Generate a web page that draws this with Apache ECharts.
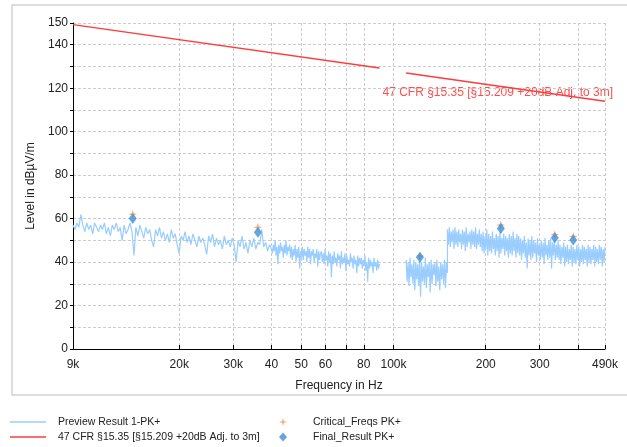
<!DOCTYPE html>
<html><head><meta charset="utf-8">
<script src="https://cdn.jsdelivr.net/npm/echarts@6/dist/echarts.min.js"></script>
<style>html,body{margin:0;padding:0;background:#fff}#c{width:627px;height:447px}</style>
</head><body><div id="c"></div>
<script>
const FONT = '"Liberation Sans", Arial, sans-serif';

// X axis (log frequency) ticks and labels
const tickFreqs = [9000, 20000, 30000, 40000, 50000, 60000, 70000, 80000, 100000, 200000, 300000, 400000, 490000];
const labelFreqs = [9000, 20000, 30000, 40000, 50000, 60000, 80000, 100000, 200000, 300000, 490000];
const labelTexts = ['9k', '20k', '30k', '40', '50', '60', '80', '100k', '200', '300', '490k'];
// Y axis labels
const yLabelValues = [0, 20, 40, 60, 80, 100, 120, 140, 150];

// Preview trace (sweep segments: start/stop frequency, levels)
const previewSeg1aRange = [9000, 40000];
const previewSeg1aLevels = [57,55,58,56,62,57,54,58,55,57,53,58,56,54,57,
  55,58,53,56,52,57,55,58,54,56,50,57,53,55,58,54,
  43,
  56,52,57,54,51,56,53,55,50,47,55,52,56,51,
  54,50,53,49,55,51,53,48,44,52,50,54,49,52,48,53,50,47,52,49,
  51,48,43.5,52,49,53,47,51,48,50,46,52,48,50,47,51,
  48,40,50,47,52,46,49,44,50,47,51,46,49,48,55,47,
  49,45,48,46];
const previewSeg1bRange = [40000, 90000];
const previewSeg1bLevels = [49,44,48,45,50,43,47,39,48,44,49,45,47,42,48,44,50,43,47,45,48,42,
  47,41,46,43,48,40,46,42,47,37,45,42,47,41,46,43,45,40,47,42,46,39,45,43,46,40,44,42,46,38,45,41,44,
  45,40,44,39,46,41,43,38,45,40,44,33,43,39,45,40,42,38,44,41,43,37,45,39,42,40,44,36,43,39,41,38,44,40,42,37,43,39,41,35,43,38,42,39,
  42,37,41,38,43,36,40,31,42,37,41,38,40,35,42,38,40,36,41,37,39];
const previewSeg2Range = [110000, 150000];
const previewSeg2Levels = [41,31,40,29,42,33,39,30,41,27,40,32,39,29,41,24,40,31,38,30,42,28,39,33,40,26,41,30,39,34,40,29,41,31,38,27,40,32,39,30,41,28,40,35];
const previewSeg3Range = [150000, 490000];
const previewSeg3Levels = [55,48,56,47,54,49,55,46,56,48,54,47,55,49,53,46,55,48,54,45,56,47,53,49,54,46,55,48,54,47,56,46,53,48,55,
  47,53,45,54,44,52,46,55,43,53,45,52,44,54,46,51,43,53,45,52,42,54,44,51,46,53,43,52,45,51,42,53,44,52,43,54,45,51,42,53,44,52,
  43,51,41,50,44,52,42,49,37,51,43,50,41,52,42,50,44,49,40,51,43,48,41,50,42,49,39,51,43,48,41,50,42,51,37,49,43,50,41,48,42,50,
  41,48,39,47,42,49,38,47,40,48,39,46,41,48,38,47,40,46,39,48,41,47,38,46,40,48,39,47,41,46,38,48,40,47,39,46,41,48,38,47,40,46,39,48,41,47,38,46,40,47];

// Limit line
const limitFreqsA = [9000, 90000];
const limitLevelsA = [149.3, 129.3];
const limitFreqsB = [110000, 490000];
const limitLevelsB = [127, 114];

// Markers
const criticalFreqs = [14100, 36100, 122000, 224000, 336000, 386000];
const criticalLevels = [62, 56, 42.8, 57, 52.7, 51.8];
const finalFreqs = [14100, 36100, 122000, 224000, 336000, 386000];
const finalLevels = [60.1, 53.7, 42.2, 55.4, 51.2, 50.1];

const LIMIT_NAME = '47 CFR §15.35 [§15.209 +20dB Adj. to 3m]';

function sweep(range, levels) {
  const n = levels.length;
  const l0 = Math.log10(range[0]), l1 = Math.log10(range[1]);
  return levels.map((v, i) => [Math.pow(10, l0 + (l1 - l0) * i / (n - 1)), v]);
}
function pairs(xs, ys) { return xs.map((x, i) => [x, ys[i]]); }

const seg1 = sweep(previewSeg1aRange, previewSeg1aLevels).concat(sweep(previewSeg1bRange, previewSeg1bLevels).slice(1));
const seg23 = sweep(previewSeg2Range, previewSeg2Levels).concat(sweep(previewSeg3Range, previewSeg3Levels));

function xLabel(v) {
  for (let i = 0; i < labelFreqs.length; i++) {
    if (Math.abs(labelFreqs[i] - v) / labelFreqs[i] < 1e-4) return labelTexts[i];
  }
  return '';
}

const starPath = 'path://M5,0 L6.2,3.8 L10,5 L6.2,6.2 L5,10 L3.8,6.2 L0,5 L3.8,3.8 Z';
const BLUE = '#99ccff', RED = '#ff3b3b', ORANGE = '#f6a066', DIAM = '#3d8fd8';
const gridStyle = { color: '#cccccc', type: [3, 2], width: 1 };
const legendText = { fontSize: 10.5, color: '#222', fontFamily: FONT, lineHeight: 14 };

const chart = echarts.init(document.getElementById('c'), null, { renderer: 'canvas' });
chart.setOption({
  animation: false,
  backgroundColor: '#fff',
  textStyle: { fontFamily: FONT },
  grid: { left: 73, right: 22, top: 23, bottom: 98, outerBoundsMode: 'none' },
  xAxis: {
    type: 'log', logBase: 10, min: 9000, max: 490000,
    name: 'Frequency in Hz', nameLocation: 'middle', nameGap: 31,
    nameTextStyle: { color: '#222', fontSize: 12, fontFamily: FONT },
    axisLine: { show: true, lineStyle: { color: '#000', width: 1 } },
    axisTick: { show: true, inside: true, length: 4, customValues: tickFreqs, lineStyle: { color: '#000' } },
    axisLabel: { customValues: labelFreqs, formatter: xLabel, color: '#222', fontSize: 12, margin: 10, fontFamily: FONT },
    splitLine: { show: true, lineStyle: gridStyle },
    minorTick: { show: false }, minorSplitLine: { show: false }
  },
  yAxis: {
    type: 'value', min: 0, max: 150, interval: 10,
    name: 'Level in dBµV/m', nameLocation: 'middle', nameGap: 22, nameRotate: 90,
    nameTextStyle: { color: '#222', fontSize: 12, fontFamily: FONT },
    axisLine: { show: true, lineStyle: { color: '#000', width: 1 } },
    axisTick: { show: true, length: 3, lineStyle: { color: '#000' } },
    axisLabel: { formatter: v => yLabelValues.includes(v) ? String(v) : '', color: '#222', fontSize: 12, margin: 5, fontFamily: FONT },
    splitLine: { show: true, lineStyle: gridStyle }
  },
  legend: [
    { left: 10, top: 415, orient: 'vertical', padding: 0, itemWidth: 36, itemHeight: 1.5, itemGap: 1,
      data: [{ name: 'Preview Result 1-PK+', icon: 'rect' }, { name: LIMIT_NAME, icon: 'rect' }],
      textStyle: Object.assign({ padding: [0, 0, 0, 7] }, legendText) },
    { left: 279, top: 415, orient: 'vertical', padding: 0, itemWidth: 8, itemHeight: 9, itemGap: 1,
      data: [{ name: 'Critical_Freqs PK+', icon: starPath }, { name: 'Final_Result PK+', icon: 'diamond' }],
      textStyle: Object.assign({ padding: [0, 0, 0, 21] }, legendText) }
  ],
  graphic: [
    { type: 'rect', silent: true, z: -10, shape: { x: 12, y: 5, width: 640, height: 390 },
      style: { fill: 'none', stroke: '#dddddd', lineWidth: 2 } },
    { type: 'text', silent: true, style: { text: LIMIT_NAME, x: 613, y: 93, align: 'right', verticalAlign: 'middle',
      fill: '#ff4d4d', font: '12px "Liberation Sans", Arial, sans-serif' } }
  ],
  series: [
    { name: 'Preview Result 1-PK+', type: 'line', data: seg1, symbol: 'none', color: BLUE,
      lineStyle: { color: BLUE, width: 1.2 }, z: 2 },
    { name: 'Preview Result 1-PK+', type: 'line', data: seg23, symbol: 'none', color: BLUE,
      lineStyle: { color: BLUE, width: 1.2 }, z: 2 },
    { name: LIMIT_NAME, type: 'line', data: pairs(limitFreqsA, limitLevelsA), symbol: 'none', color: RED,
      lineStyle: { color: RED, width: 1.3 }, z: 3 },
    { name: LIMIT_NAME, type: 'line', data: pairs(limitFreqsB, limitLevelsB), symbol: 'none', color: RED,
      lineStyle: { color: RED, width: 1.3 }, z: 3 },
    { name: 'Critical_Freqs PK+', type: 'scatter', data: pairs(criticalFreqs, criticalLevels),
      symbol: starPath, symbolSize: 9, itemStyle: { color: ORANGE }, z: 4 },
    { name: 'Final_Result PK+', type: 'scatter', data: pairs(finalFreqs, finalLevels),
      symbol: 'diamond', symbolSize: [8, 11], itemStyle: { color: DIAM }, z: 5 }
  ]
});
</script></body></html>
